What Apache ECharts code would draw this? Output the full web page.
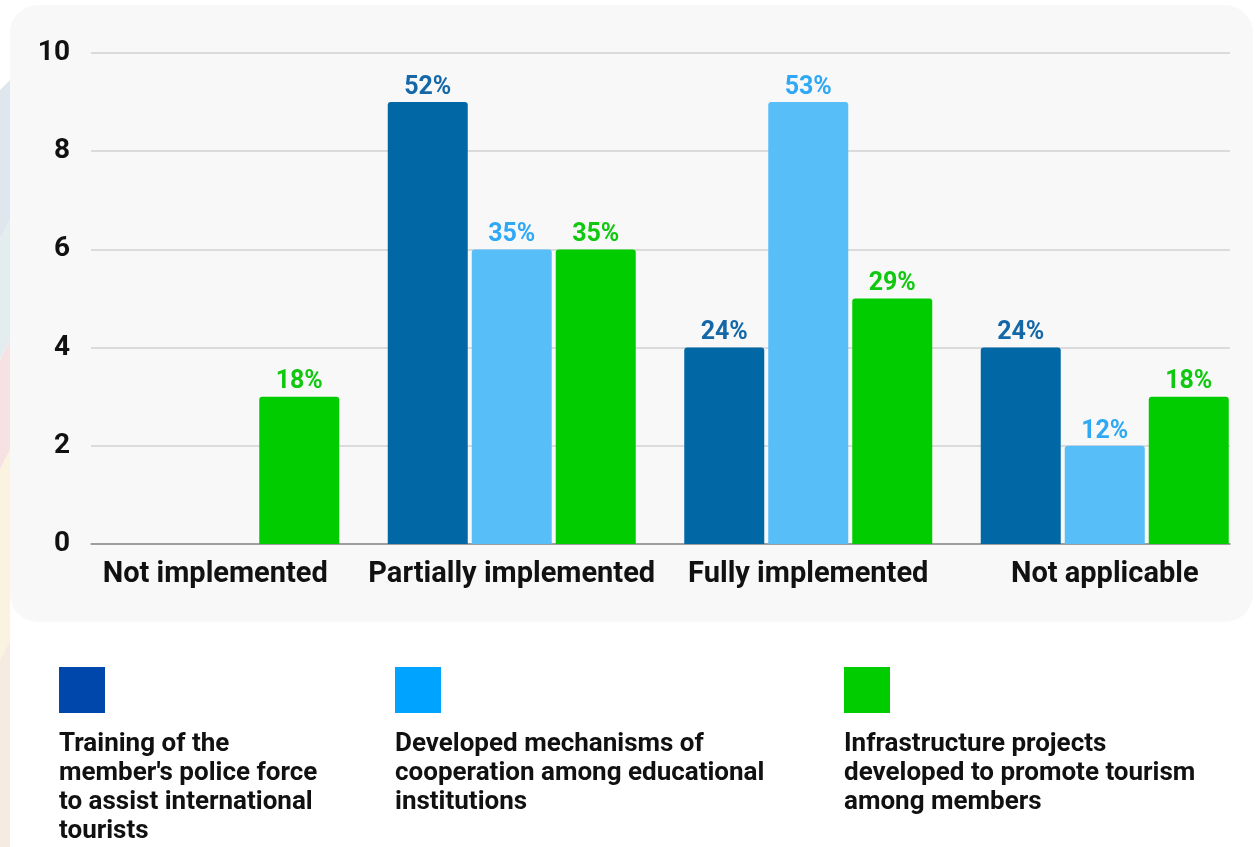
<!DOCTYPE html>
<html>
<head>
<meta charset="utf-8">
<script src="https://cdn.jsdelivr.net/npm/echarts@6/dist/echarts.min.js"></script>
<style>
  html, body { margin: 0; padding: 0; background: #ffffff; }
  #chart { width: 1255px; height: 847px; }
</style>
</head>
<body>
<div id="chart"></div>
<script>
// Implementation status of the three initiatives (number of members)
const categories = ['Not implemented', 'Partially implemented', 'Fully implemented', 'Not applicable'];
const seriesNames = [
  "Training of the\nmember's police force\nto assist international\ntourists",
  'Developed mechanisms of\ncooperation among educational\ninstitutions',
  'Infrastructure projects\ndeveloped to promote tourism\namong members'
];
const policeTraining = [0, 9, 4, 4];
const educationCooperation = [0, 6, 9, 2];
const infrastructureProjects = [3, 6, 5, 3];
// Share of members shown above each bar
const policeTrainingPct = ['', '52%', '24%', '24%'];
const educationCooperationPct = ['', '35%', '53%', '12%'];
const infrastructureProjectsPct = ['18%', '35%', '29%', '18%'];
const yTicks = [0, 2, 4, 6, 8, 10];

const barColors = ['#0168a5', '#57bef8', '#00cc00'];
const labelColors = ['#1468a8', '#2fa8f5', '#10c810'];
const legendColors = ['#0047ab', '#00a3ff', '#00cc00'];
const legendX = [59, 395, 844];

const FONT = 'Roboto, "Noto Sans", sans-serif';
const chart = echarts.init(document.getElementById('chart'), null, { renderer: 'canvas' });

const values = [policeTraining, educationCooperation, infrastructureProjects];
const pcts = [policeTrainingPct, educationCooperationPct, infrastructureProjectsPct];

const series = values.map((vals, i) => ({
  name: seriesNames[i],
  type: 'bar',
  xAxisIndex: 0,
  yAxisIndex: 0,
  barWidth: 80,
  barGap: '5%',
  data: vals.map((v, j) => ({ value: v, pct: pcts[i][j] })),
  itemStyle: { color: barColors[i], borderRadius: [3, 3, 0, 0] },
  label: {
    show: true,
    position: 'top',
    distance: 2,
    color: labelColors[i],
    fontFamily: FONT,
    fontWeight: 'bold',
    fontSize: 25,
    formatter: p => (p.value > 0 ? p.data.pct : '')
  },
  z: 3
}));

// Faint decorative bands along the left page edge
const decor = [
  { pts: [[0, 90], [10, 80], [10, 220], [0, 240]], fill: '#dfe6ee' },
  { pts: [[0, 240], [10, 220], [10, 340], [0, 360]], fill: '#e3edf0' },
  { pts: [[0, 360], [10, 340], [10, 450], [0, 470]], fill: '#f6e2e2' },
  { pts: [[0, 470], [10, 450], [10, 640], [0, 660]], fill: '#faf3df' },
  { pts: [[0, 660], [10, 640], [10, 847], [0, 847]], fill: '#f6ebe1' }
];

const graphics = [];
decor.forEach(d => graphics.push({
  type: 'polygon', shape: { points: d.pts }, style: { fill: d.fill }, z: -20, silent: true
}));
graphics.push({
  type: 'rect', shape: { x: 10, y: 5, width: 1243, height: 617, r: 28 },
  style: { fill: '#f8f8f8' }, z: -10, silent: true
});
seriesNames.forEach((name, i) => {
  graphics.push({
    type: 'rect', shape: { x: legendX[i], y: 667, width: 46, height: 46 },
    style: { fill: legendColors[i] }, silent: true
  });
  graphics.push({
    type: 'text', x: legendX[i], y: 730,
    style: {
      text: name, fill: '#111111', font: 'bold 26px ' + FONT,
      lineHeight: 29, textVerticalAlign: 'top'
    },
    silent: true
  });
});

chart.setOption({
  backgroundColor: '#ffffff',
  animation: false,
  textStyle: { fontFamily: FONT },
  graphic: graphics,
  grid: [
    { left: 67, right: 2, top: 53, bottom: 303, containLabel: false },
    { left: 91, right: 25, top: 53, bottom: 303, containLabel: false }
  ],
  xAxis: [
    {
      type: 'category', gridIndex: 0, data: categories,
      axisLine: { show: false }, axisTick: { show: false },
      axisLabel: {
        interval: 0, hideOverlap: false,
        color: '#111111', fontFamily: FONT, fontWeight: 'bold', fontSize: 29, margin: 16
      }
    },
    {
      type: 'value', gridIndex: 1, min: 0, max: 1,
      axisLine: { show: true, onZero: false, lineStyle: { color: '#8a8a8a', width: 1.5 } },
      axisTick: { show: false }, axisLabel: { show: false }, splitLine: { show: false }
    }
  ],
  yAxis: [
    {
      type: 'value', gridIndex: 0, min: 0, max: 10, interval: 2,
      axisLine: { show: false }, axisTick: { show: false },
      axisLabel: { show: false }, splitLine: { show: false }
    },
    {
      type: 'value', gridIndex: 1, min: yTicks[0], max: yTicks[yTicks.length - 1], interval: 2,
      axisLine: { show: false }, axisTick: { show: false },
      axisLabel: {
        color: '#111111', fontFamily: FONT, fontWeight: 'bold', fontSize: 28, margin: 21
      },
      splitLine: { show: true, lineStyle: { color: '#d2d2d2', width: 1.5 } }
    }
  ],
  series: series
});
</script>
</body>
</html>
